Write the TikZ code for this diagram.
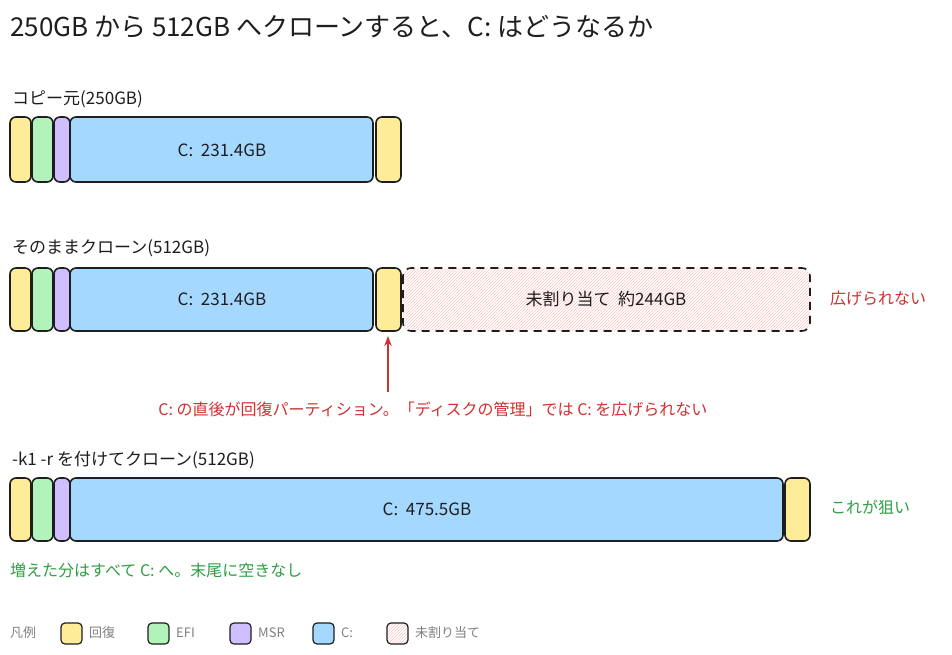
\documentclass[tikz,border=0pt]{standalone}
\usepackage{fontspec}
\setmainfont{Noto Sans CJK JP}
\usetikzlibrary{patterns,arrows.meta}
\definecolor{cy}{HTML}{FFEC99}
\definecolor{cg}{HTML}{B2F2BB}
\definecolor{cp}{HTML}{D0BFFF}
\definecolor{cb}{HTML}{A5D8FF}
\definecolor{cr}{HTML}{D03030}
\definecolor{cgt}{HTML}{2F9E44}
\definecolor{ct}{HTML}{1E1E1E}
\begin{document}
\begin{tikzpicture}[x=1pt,y=-1pt,
 seg/.style={draw=ct,line width=1.6pt,rounded corners=6pt},
 lab/.style={anchor=west,font=\fontsize{17}{19}\selectfont,text=ct,inner sep=0},
 ttl/.style={anchor=west,font=\fontsize{26}{29}\selectfont,text=ct,inner sep=0},
 ins/.style={font=\fontsize{17}{19}\selectfont,text=ct},
 note/.style={anchor=west,font=\fontsize{16}{18}\selectfont,inner sep=0},
 leg/.style={anchor=west,font=\fontsize{13}{15}\selectfont,text=gray,inner sep=0},
 lbox/.style={seg,line width=1.2pt,rounded corners=4pt}]
\useasboundingbox[fill=white] (0,0) rectangle (952,654);
\node[ttl] (title) at (10,27) {250GB から 512GB へクローンすると、C: はどうなるか};
% row 1
\node[lab] (l1) at (12,99) {コピー元(250GB)};
\draw[seg,fill=cy] (10,117) rectangle (31,182);
\draw[seg,fill=cg] (32,117) rectangle (53,182);
\draw[seg,fill=cp] (54,117) rectangle (70,182);
\draw[seg,fill=cb] (70,117) rectangle (373,182);
\node[ins] (c1) at (222,150) {C:\ \ 231.4GB};
\draw[seg,fill=cy] (376,117) rectangle (401,182);
% row 2
\node[lab] (l2) at (12,248) {そのままクローン(512GB)};
\draw[seg,fill=cy] (10,268) rectangle (31,331);
\draw[seg,fill=cg] (32,268) rectangle (53,331);
\draw[seg,fill=cp] (54,268) rectangle (70,331);
\draw[seg,fill=cb] (70,268) rectangle (373,331);
\node[ins] (c2) at (222,299) {C:\ \ 231.4GB};
\draw[seg,fill=cy] (376,268) rectangle (401,331);
\fill[pattern=north east lines,pattern color=red!22,rounded corners=8pt] (403,268) rectangle (810,331);
\draw[seg,dashed,dash pattern=on 8pt off 6pt,rounded corners=8pt] (403,268) rectangle (810,331);
\node[ins] (u) at (606,299) {未割り当て\ \ 約244GB};
\node[note,text=cr] (n1) at (830,298) {広げられない};
\coordinate (ab) at (388,392);
\coordinate (at) at (388,336);
\draw[cr,line width=1.5pt,-{Stealth[length=10pt]}] (ab) -- (at);
\node[note,text=cr,anchor=center] (n2) at (433,409) {C: の直後が回復パーティション。「ディスクの管理」では C: を広げられない};
% row 3
\node[lab] (l3) at (12,460) {-k1 -r を付けてクローン(512GB)};
\draw[seg,fill=cy] (10,478) rectangle (31,541);
\draw[seg,fill=cg] (32,478) rectangle (53,541);
\draw[seg,fill=cp] (54,478) rectangle (70,541);
\draw[seg,fill=cb] (70,478) rectangle (783,541);
\node[ins] (c3) at (427,509) {C:\ \ 475.5GB};
\draw[seg,fill=cy] (785,478) rectangle (810,541);
\node[note,text=cgt] (n3) at (830,507) {これが狙い};
\node[note,text=cgt] (n4) at (10,570) {増えた分はすべて C: へ。末尾に空きなし};
% legend
\node[leg] (lg) at (10,633) {凡例};
\draw[lbox,fill=cy] (61,623) rectangle (82,644);
\node[leg] (lg1) at (89,633) {回復};
\draw[lbox,fill=cg] (148,623) rectangle (169,644);
\node[leg] (lg2) at (176,633) {EFI};
\draw[lbox,fill=cp] (230,623) rectangle (251,644);
\node[leg] (lg3) at (258,633) {MSR};
\draw[lbox,fill=cb] (313,623) rectangle (334,644);
\node[leg] (lg4) at (341,633) {C:};
\fill[pattern=north east lines,pattern color=red!22,rounded corners=4pt] (387,623) rectangle (408,644);
\draw[lbox] (387,623) rectangle (408,644);
\node[leg] (lg5) at (415,633) {未割り当て};
\end{tikzpicture}
\end{document}
